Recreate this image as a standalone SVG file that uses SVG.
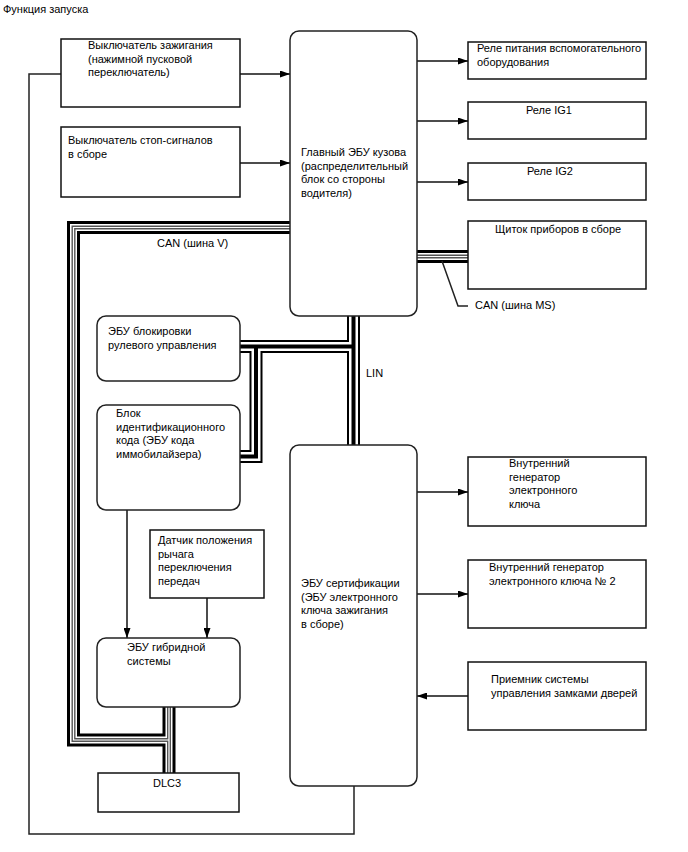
<svg xmlns="http://www.w3.org/2000/svg" width="688" height="852" viewBox="0 0 688 852">
<defs>
<style>
text{font-family:"Liberation Sans",Arial,sans-serif;font-size:11px;fill:#000}
.box{fill:#fff;stroke:#111;stroke-width:1.5}
.rbox{fill:#fff;stroke:#222;stroke-width:1.5}
.wire{fill:none;stroke:#222;stroke-width:1.5}
.arr{fill:none;stroke:#111;stroke-width:1.5;marker-end:url(#ah)}
.b1{fill:none;stroke:#000;stroke-width:13;stroke-linejoin:miter}
.b2{fill:none;stroke:#fff;stroke-width:7;stroke-linejoin:miter}
.b3{fill:none;stroke:#555;stroke-width:4;stroke-linejoin:miter}
.b4{fill:none;stroke:#fff;stroke-width:1.2;stroke-linejoin:miter}
.l1{fill:none;stroke:#000;stroke-width:13;stroke-linejoin:miter}
.l2{fill:none;stroke:#fff;stroke-width:9;stroke-linejoin:miter}
.l3{fill:none;stroke:#000;stroke-width:4;stroke-linejoin:miter}
</style>
<marker id="ah" viewBox="0 0 10 7" refX="10" refY="3.5" markerWidth="10" markerHeight="7" markerUnits="userSpaceOnUse" orient="auto"><path d="M0,0 L10,3.5 L0,7 z" fill="#000"/></marker>
</defs>
<rect width="688" height="852" fill="#fff"/>
<text x="3" y="13">Функция запуска</text>

<g id="connectors">
  <!-- CAN V bus -->
  <g id="can-v">
    <path class="b1" d="M290,227.5 H73.5 V740 H169"/>
    <path class="b1" d="M169,707 V773"/>
    <path class="b2" d="M290,227.5 H73.5 V740 H169"/>
    <path class="b2" d="M169,707 V773"/>
    <path class="b3" d="M290,227.5 H73.5 V740 H169"/>
    <path class="b3" d="M169,707 V773"/>
    <path class="b4" d="M290,227.5 H73.5 V740 H169"/>
    <path class="b4" d="M169,707 V773"/>
  </g>
  <!-- CAN MS bus -->
  <g id="can-ms">
    <path class="b1" d="M417,256.5 H468"/>
    <path class="b2" d="M417,256.5 H468"/>
    <path class="b3" d="M417,256.5 H468"/>
    <path class="b4" d="M417,256.5 H468"/>
    <path class="wire" d="M442,261 L458,306 H468"/>
  </g>
  <!-- LIN bus -->
  <g id="lin">
    <path class="l1" d="M353.5,316 V445"/>
    <path class="l1" d="M240,346.5 H353.5"/>
    <path class="l1" d="M256,346.5 V456.5 H240"/>
    <path class="l2" d="M353.5,316 V445"/>
    <path class="l2" d="M240,346.5 H353.5"/>
    <path class="l2" d="M256,346.5 V456.5 H240"/>
    <path class="l3" d="M353.5,316 V445"/>
    <path class="l3" d="M240,346.5 H353.5"/>
    <path class="l3" d="M256,346.5 V456.5 H240"/>
  </g>
  <!-- loop wire -->
  <path class="wire" d="M61,74 H29 V834 H354 V786"/>
  <!-- arrows -->
  <path class="arr" d="M240,74 H290"/>
  <path class="arr" d="M240,163 H290"/>
  <path class="arr" d="M417,61 H468"/>
  <path class="arr" d="M417,121 H468"/>
  <path class="arr" d="M417,182 H468"/>
  <path class="arr" d="M417,492 H468"/>
  <path class="arr" d="M417,594 H468"/>
  <path class="arr" d="M468,696 H417"/>
  <path class="arr" d="M127,510 V638"/>
  <path class="arr" d="M207,598 V638"/>
  <text x="157" y="247">CAN (шина V)</text>
  <text x="475" y="309">CAN (шина MS)</text>
  <text x="366" y="377">LIN</text>
</g>

<g id="ignition-switch">
  <rect class="box" x="61" y="39" width="179" height="68"/>
  <text x="88" y="49">Выключатель зажигания</text>
  <text x="88" y="62.5">(нажимной пусковой</text>
  <text x="88" y="76">переключатель)</text>
</g>
<g id="brake-switch">
  <rect class="box" x="61" y="127" width="179" height="70"/>
  <text x="68" y="144">Выключатель стоп-сигналов</text>
  <text x="68" y="157.5">в сборе</text>
</g>
<g id="main-body-ecu">
  <rect class="rbox" x="290" y="31" width="127" height="285" rx="9"/>
  <text x="301" y="156">Главный ЭБУ кузова</text>
  <text x="301" y="169.5">(распределительный</text>
  <text x="301" y="183">блок со стороны</text>
  <text x="301" y="196.5">водителя)</text>
</g>
<g id="acc-relay">
  <rect class="box" x="468" y="42" width="178" height="37"/>
  <text x="477" y="52">Реле питания вспомогательного</text>
  <text x="477" y="65.5">оборудования</text>
</g>
<g id="ig1-relay">
  <rect class="box" x="468" y="102" width="178" height="37"/>
  <text x="526" y="114">Реле IG1</text>
</g>
<g id="ig2-relay">
  <rect class="box" x="468" y="163" width="178" height="37"/>
  <text x="527" y="175">Реле IG2</text>
</g>
<g id="combination-meter">
  <rect class="box" x="468" y="221" width="178" height="68"/>
  <text x="495" y="233">Щиток приборов в сборе</text>
</g>
<g id="steering-lock-ecu">
  <rect class="rbox" x="97" y="316" width="143" height="65" rx="9"/>
  <text x="108" y="335">ЭБУ блокировки</text>
  <text x="108" y="348.5">рулевого управления</text>
</g>
<g id="immobilizer">
  <rect class="rbox" x="97" y="405" width="143" height="105" rx="9"/>
  <text x="116" y="417">Блок</text>
  <text x="116" y="430.5">идентификационного</text>
  <text x="116" y="444">кода (ЭБУ кода</text>
  <text x="116" y="457.5">иммобилайзера)</text>
</g>
<g id="shift-sensor">
  <rect class="box" x="150" y="530" width="114" height="68"/>
  <text x="158" y="544">Датчик положения</text>
  <text x="158" y="557.5">рычага</text>
  <text x="158" y="571">переключения</text>
  <text x="158" y="584.5">передач</text>
</g>
<g id="hybrid-ecu">
  <rect class="rbox" x="97" y="638" width="143" height="69" rx="9"/>
  <text x="127" y="651">ЭБУ гибридной</text>
  <text x="127" y="664.5">системы</text>
</g>
<g id="dlc3">
  <rect class="box" x="98" y="773" width="141" height="39"/>
  <text x="153" y="787">DLC3</text>
</g>
<g id="certification-ecu">
  <rect class="rbox" x="290" y="445" width="127" height="341" rx="9"/>
  <text x="301" y="587">ЭБУ сертификации</text>
  <text x="301" y="600.5">(ЭБУ электронного</text>
  <text x="301" y="614">ключа зажигания</text>
  <text x="301" y="627.5">в сборе)</text>
</g>
<g id="oscillator-1">
  <rect class="box" x="468" y="457" width="178" height="69"/>
  <text x="509" y="467">Внутренний</text>
  <text x="509" y="480.5">генератор</text>
  <text x="509" y="494">электронного</text>
  <text x="509" y="507.5">ключа</text>
</g>
<g id="oscillator-2">
  <rect class="box" x="468" y="560" width="178" height="68"/>
  <text x="489" y="571">Внутренний генератор</text>
  <text x="489" y="584.5">электронного ключа № 2</text>
</g>
<g id="door-receiver">
  <rect class="box" x="468" y="662" width="178" height="68"/>
  <text x="491" y="683">Приемник системы</text>
  <text x="491" y="696.5">управления замками дверей</text>
</g>
</svg>
